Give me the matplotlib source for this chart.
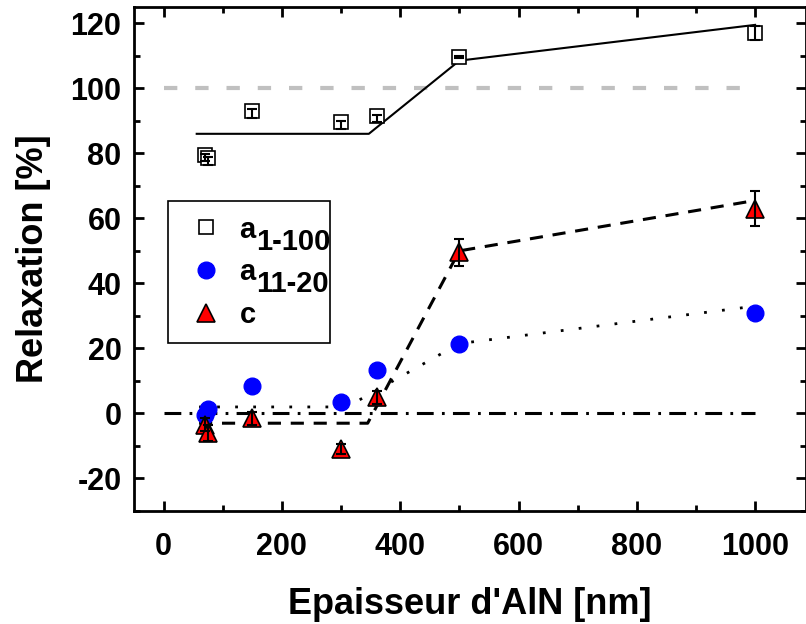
import matplotlib
matplotlib.use("Agg")
import matplotlib.pyplot as plt
from matplotlib.ticker import MultipleLocator

plt.rcParams['font.family'] = ['Liberation Sans', 'DejaVu Sans']
plt.rcParams['font.weight'] = 'bold'
plt.rcParams['axes.unicode_minus'] = False

# AlN thickness [nm]
thickness = [70, 75, 150, 300, 360, 500, 1000]

# a_{1-100} relaxation [%]
a1100 = [79.5, 78.5, 93, 89.5, 91.5, 109.5, 117]
a1100_lo = [2, 2, 2, 2, 2, 0.3, 2.2]
a1100_hi = [0.3, 0.3, 0.5, 0.3, 0.3, 0.3, 2.2]

# a_{11-20} relaxation [%]
a1120 = [-0.5, 1.5, 8.5, 3.5, 13.5, 21.5, 31]

# c relaxation [%]
c_rel = [-3.5, -6, -1.5, -11, 5, 49.5, 63]
c_err = [2, 2.5, 2, 1.5, 2, 4, 5.5]

# guide lines
fit_a_x = [56, 347, 500, 1000]
fit_a_y = [86, 86, 108.5, 119.5]
fit_b_x = [60, 310, 500, 1000]
fit_b_y = [2, 2, 21.5, 33]
fit_c_x = [60, 345, 500, 1000]
fit_c_y = [-3, -3, 50, 65.5]
ref_x = [0, 1000]
ref_full = [100, 100]
ref_zero = [0, 0]

fig = plt.figure(figsize=(8.06, 6.24), dpi=100)
ax = fig.add_axes([134 / 806, 113 / 624, 672 / 806, 504 / 624])

ax.plot(ref_x, ref_full, color='#c0c0c0', lw=3, ls=(0, (3.2, 4.3)), zorder=1)
ax.plot(ref_x, ref_zero, color='black', lw=2.2, ls=(0, (5.5, 2.7, 0.9, 2.7)), zorder=2)

ax.plot(fit_a_x, fit_a_y, color='black', lw=1.5, zorder=2)
ax.plot(fit_b_x, fit_b_y, color='black', lw=2, ls=(0, (1, 5.5)), zorder=2)
ax.plot(fit_c_x, fit_c_y, color='black', lw=2.2, ls=(0, (4.3, 3.2)), zorder=2)

sq, = ax.plot(thickness, a1100, ls='none', marker='s', ms=10, mfc='white',
              mec='black', mew=1.2, zorder=3, label='a')
ax.errorbar(thickness, a1100, yerr=[a1100_lo, a1100_hi], fmt='none', ecolor='black',
            elinewidth=1.5, capsize=3.5, capthick=1.5, zorder=4)

ci, = ax.plot(thickness, a1120, ls='none', marker='o', ms=12, mfc='#0000ff',
              mec='#0000ff', zorder=3, label='a')

tr, = ax.plot(thickness, c_rel, ls='none', marker='^', ms=13, mfc='#ff0000',
              mec='black', mew=1.2, zorder=3, label='c')
ax.errorbar(thickness, c_rel, yerr=c_err, fmt='none', ecolor='black',
            elinewidth=1.5, capsize=3.5, capthick=1.5, zorder=4)

ax.set_xlim(-50, 1086)
ax.set_ylim(-30, 125)
ax.xaxis.set_major_locator(MultipleLocator(200))
ax.xaxis.set_minor_locator(MultipleLocator(100))
ax.yaxis.set_major_locator(MultipleLocator(20))
ax.yaxis.set_minor_locator(MultipleLocator(10))
ax.tick_params(which='both', direction='in', top=True, right=True, width=2,
               labelsize=22)
ax.tick_params(axis='y', pad=9)
ax.tick_params(axis='x', pad=15)
ax.tick_params(which='major', length=7)
ax.tick_params(which='minor', length=4)
for s in ax.spines.values():
    s.set_linewidth(2)

ax.set_xlabel("Epaisseur d'AlN [nm]", fontsize=26, fontweight='bold', labelpad=18)
ax.set_ylabel("Relaxation [%]", fontsize=26, fontweight='bold', labelpad=14)

leg = ax.legend(handles=[sq, ci, tr], loc='upper left',
                bbox_to_anchor=(0.0506, 0.341, 0.241, 0.274), mode='expand',
                borderaxespad=0, fontsize=21, handlelength=1.6,
                handletextpad=0.35, borderpad=0.5, labelspacing=0.5,
                fancybox=False, edgecolor='black', framealpha=1, numpoints=1)
leg.get_frame().set_linewidth(1.2)

# subscripts drawn at the same size as the main letter, as in the original
fig.canvas.draw()
renderer = fig.canvas.get_renderer()
subs = ['1-100', '11-20']
for t, sub in zip(leg.get_texts()[:2], subs):
    bb = t.get_window_extent(renderer)
    fig.text(bb.x1 / 806, (bb.y0 - 12) / 624, sub, fontsize=21,
             fontweight='bold', ha='left', va='bottom', zorder=10)

fig.savefig('out.png', dpi=100)
